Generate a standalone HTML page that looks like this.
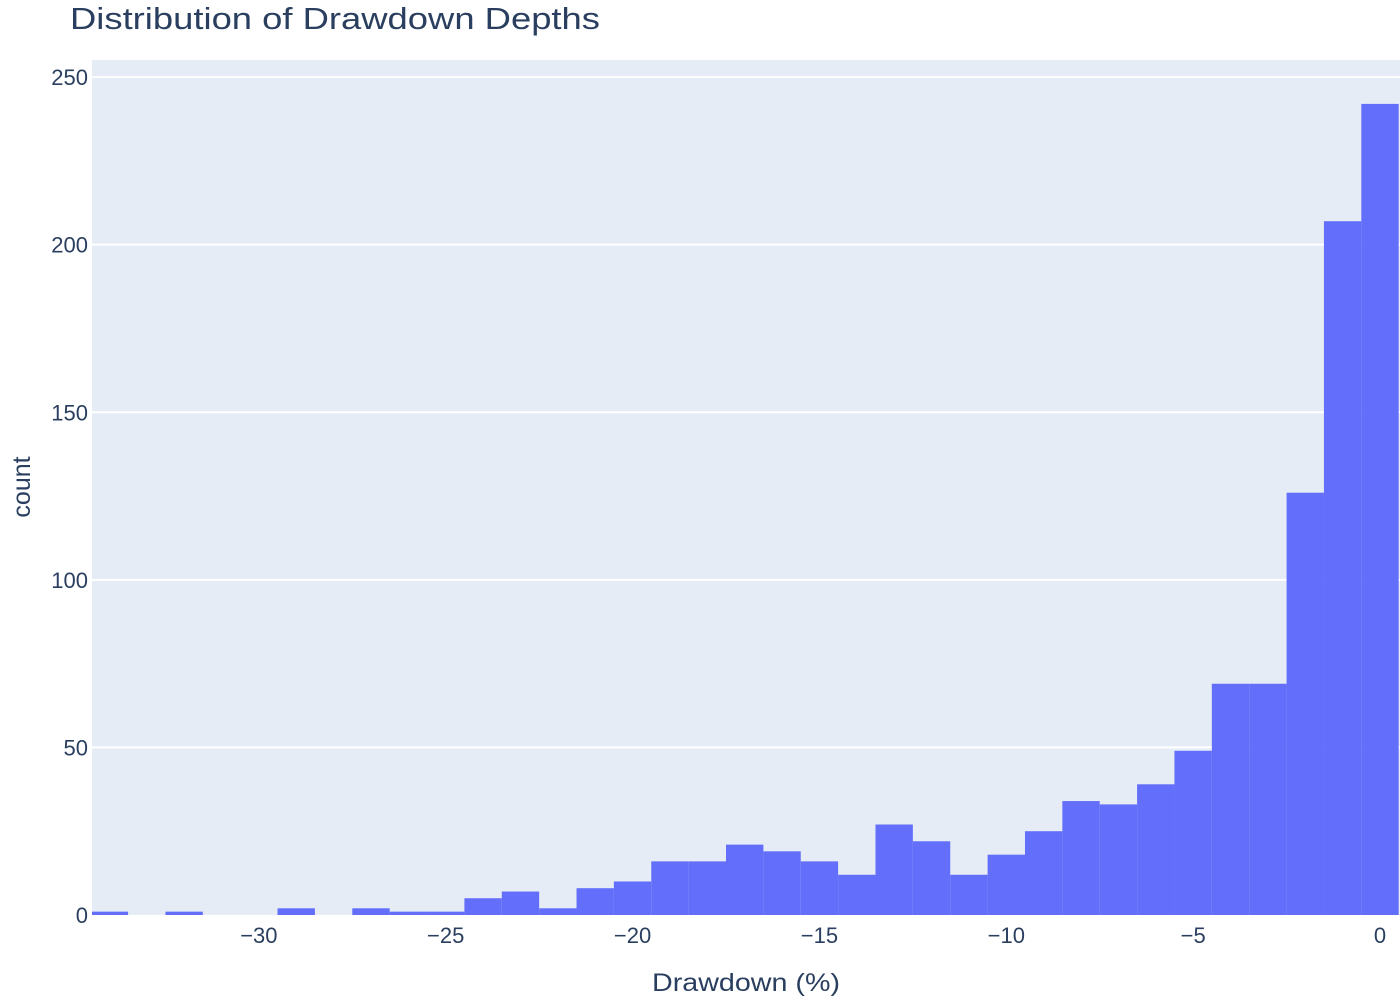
<!DOCTYPE html>
<html><head><meta charset="utf-8"><style>
body{margin:0;background:#fff;}
svg text{font-family:"Liberation Sans",sans-serif;fill:#2a3f5f;}
</style></head><body>
<svg id="chart" width="1400" height="1000">
<text x="70" y="29" font-size="31" textLength="530" lengthAdjust="spacingAndGlyphs">Distribution of Drawdown Depths</text>
<rect x="92" y="60" width="1308" height="855" fill="#e5ecf6"/>
<g id="grid"></g><g id="bars"></g><g id="xt"></g><g id="yt"></g>
<text x="652" y="991" font-size="25" textLength="188" lengthAdjust="spacingAndGlyphs">Drawdown (%)</text>
<text transform="translate(30,487) rotate(-90)" font-size="25" text-anchor="middle">count</text>
</svg>
<script>
const binStart = -34.5;
const binWidth = 1;
const counts = [1,0,1,0,0,2,0,2,1,1,5,7,2,8,10,16,16,21,19,16,12,27,22,12,18,25,34,33,39,49,69,69,126,207,242];
const xTicks = [-30,-25,-20,-15,-10,-5,0];
const xTickLabels = ["−30","−25","−20","−15","−10","−5","0"];
const yTicks = [0,50,100,150,200,250];
const L=92,R=1400,T=60,B=915,xmin=-34.465,xmax=0.535,ymax=255.1;
const X=v=>L+(v-xmin)/(xmax-xmin)*(R-L);
const Y=v=>B-v/ymax*(B-T);
const NS="http://www.w3.org/2000/svg";
const mk=(p,t,a)=>{const e=document.createElementNS(NS,t);for(const k in a)e.setAttribute(k,a[k]);document.getElementById(p).appendChild(e);return e;};
yTicks.forEach(v=>{
  if(v>0){const g=mk('grid','line',{x1:L,x2:R,y1:Y(v),y2:Y(v),stroke:'#fff','stroke-width':2});
  
  }
  const t=mk('yt','text',{x:L-4,y:Y(v)+8,'font-size':22,'text-anchor':'end'});t.textContent=v;
  
  
});
counts.forEach((c,i)=>{
  if(c<=0)return;
  const x0=X(binStart+i*binWidth),x1=X(binStart+(i+1)*binWidth);
  const r=mk('bars','rect',{x:Math.max(x0,L),y:Y(c),width:Math.min(x1,R)-Math.max(x0,L),height:B-Y(c),fill:'#636efa'});
  
  
});
xTicks.forEach((v,i)=>{
  const t=mk('xt','text',{x:X(v),y:943,'font-size':22,'text-anchor':'middle'});t.textContent=xTickLabels[i];
  
  
});
</script>
</body></html>
